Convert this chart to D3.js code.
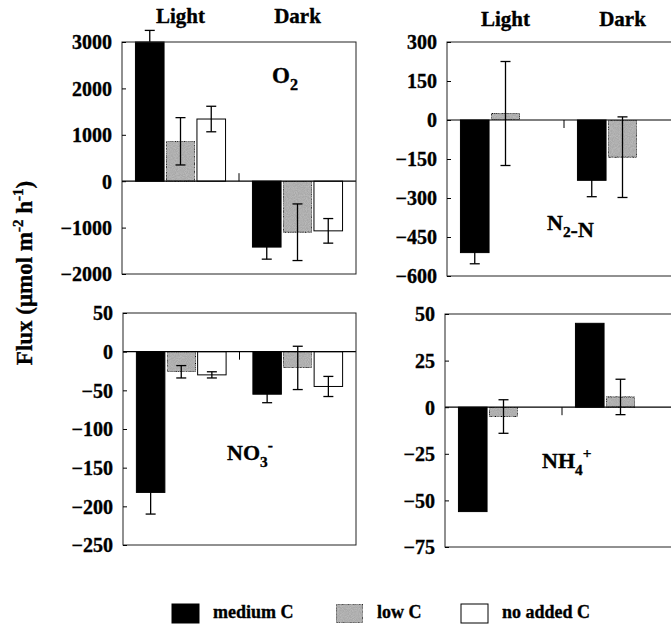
<!DOCTYPE html>
<html>
<head>
<meta charset="utf-8">
<script src="https://cdn.jsdelivr.net/npm/d3@7"></script>
<style>
  html, body { margin: 0; padding: 0; background: #fff; overflow: hidden; }
  svg { display: block; }
  text { font-family: "Liberation Serif", "Times New Roman", serif; fill: #000; }
  .heavy { stroke: #000; stroke-width: 0.35px; }
</style>
</head>
<body>
<svg id="chart" width="671" height="632"></svg>
<script>
// Treatments and incubation periods
const series = ["medium C", "low C", "no added C"];
const periods = ["Light", "Dark"];

// Mean fluxes, [period][treatment]; null = not measured
const o2Mean  = [[3000, 860, 1340], [-1420, -1100, -1070]];
const o2Err   = [[250, 510, 275], [260, 610, 265]];
const n2Mean  = [[-510, 25, null], [-232, -143, null]];
const n2Err   = [[43, 200, null], [63, 155, null]];
const no3Mean = [[-182, -26, -30], [-55, -21, -45]];
const no3Err  = [[28, 8, 4], [11, 28, 13]];
const nh4Mean = [[-56, -5, null], [45, 5.5, null]];
const nh4Err  = [[0, 9, null], [0, 9.5, null]];

// Tick values for each panel
const o2Ticks  = [-2000, -1000, 0, 1000, 2000, 3000];
const n2Ticks  = [-600, -450, -300, -150, 0, 150, 300];
const no3Ticks = [-250, -200, -150, -100, -50, 0, 50];
const nh4Ticks = [-75, -50, -25, 0, 25, 50];

const fills = ["#000000", "#a9a9a9", "#ffffff"];

const svg = d3.select("#chart");

// Stippled grey used for the low C bars
const defs = svg.append("defs");
const flt = defs.append("filter").attr("id", "stipple")
  .attr("x", 0).attr("y", 0).attr("width", 1).attr("height", 1);
flt.append("feTurbulence").attr("type", "fractalNoise")
  .attr("baseFrequency", 1.1).attr("numOctaves", 1).attr("seed", 3).attr("result", "n");
flt.append("feColorMatrix").attr("in", "n").attr("type", "matrix")
  .attr("values", "0 0 0 0 0.5  0 0 0 0 0.5  0 0 0 0 0.5  0 0 0 -2.2 1.45").attr("result", "dots");
flt.append("feComposite").attr("in", "dots").attr("in2", "SourceGraphic").attr("operator", "atop");

const panels = [
  { key: "o2",  mean: o2Mean,  err: o2Err,  ticks: o2Ticks,  x: 122, y: 42,  w: 234, h: 232,
    header: true, headerDy: -19, midTickUp: true,
    label: [{ t: "O", s: "2", sup: "" }], lx: 150, ly: 41, lsize: 23 },
  { key: "n2",  mean: n2Mean,  err: n2Err,  ticks: n2Ticks,  x: 447, y: 42,  w: 234, h: 234,
    header: true, headerDy: -16, midTickUp: false,
    label: [{ t: "N", s: "2", sup: "" }, { t: "-N", s: "", sup: "" }], lx: 100, ly: 188, lsize: 22 },
  { key: "no3", mean: no3Mean, err: no3Err, ticks: no3Ticks, x: 123, y: 313, w: 233, h: 232,
    header: false, midTickUp: false,
    label: [{ t: "NO", s: "3", sup: "-" }], lx: 104, ly: 147, lsize: 22 },
  { key: "nh4", mean: nh4Mean, err: nh4Err, ticks: nh4Ticks, x: 445, y: 314, w: 234, h: 233,
    header: false, midTickUp: false,
    label: [{ t: "NH", s: "4", sup: "+" }], lx: 97, ly: 154, lsize: 22 }
];

panels.forEach(p => {
  const g = svg.append("g").attr("transform", `translate(${p.x},${p.y})`);
  const dom = d3.extent(p.ticks);
  const y = d3.scaleLinear().domain(dom).range([p.h, 0]);
  const x0 = d3.scaleBand().domain(periods).range([0, p.w]).paddingInner(0.23).paddingOuter(0.115);
  const x1 = d3.scaleBand().domain(series).range([0, x0.bandwidth()]).paddingInner(0.07);

  // Rows of bar data
  const rows = [];
  periods.forEach((per, i) => series.forEach((s, j) => {
    if (p.mean[i][j] !== null) rows.push({ per, s, j, v: p.mean[i][j], e: p.err[i][j] });
  }));

  // Bars
  g.selectAll("rect.bar").data(rows).join("rect")
    .attr("class", "bar")
    .attr("x", d => x0(d.per) + x1(d.s))
    .attr("width", x1.bandwidth())
    .attr("y", d => y(Math.max(0, d.v)))
    .attr("height", d => Math.abs(y(d.v) - y(0)))
    .attr("fill", d => fills[d.j])
    .attr("filter", d => d.j === 1 ? "url(#stipple)" : null)
    .attr("stroke", "#000").attr("stroke-width", 1);

  // Error bars
  const eb = g.selectAll("g.err").data(rows.filter(d => d.e > 0)).join("g").attr("class", "err")
    .attr("transform", d => `translate(${x0(d.per) + x1(d.s) + x1.bandwidth() / 2},0)`)
    .attr("stroke", "#000").attr("stroke-width", 1.3);
  eb.append("line").attr("y1", d => y(d.v - d.e)).attr("y2", d => y(d.v + d.e));
  eb.append("line").attr("x1", -5).attr("x2", 5).attr("y1", d => y(d.v + d.e)).attr("y2", d => y(d.v + d.e));
  eb.append("line").attr("x1", -5).attr("x2", 5).attr("y1", d => y(d.v - d.e)).attr("y2", d => y(d.v - d.e));

  // Zero line and the divider tick between Light and Dark
  g.append("line").attr("x1", 0).attr("x2", p.w).attr("y1", y(0)).attr("y2", y(0))
    .attr("stroke", "#000").attr("stroke-width", 1.2);
  g.append("line").attr("x1", p.w / 2).attr("x2", p.w / 2)
    .attr("y1", y(0)).attr("y2", y(0) + (p.midTickUp ? -8 : 8))
    .attr("stroke", "#000").attr("stroke-width", 1);

  // Frame
  g.append("rect").attr("x", 0).attr("y", 0).attr("width", p.w).attr("height", p.h)
    .attr("fill", "none").attr("stroke", "#222").attr("stroke-width", 1);

  // Y axis with inward ticks
  const ax = g.append("g").call(d3.axisLeft(y).tickValues(p.ticks).tickSize(-4).tickPadding(10).tickFormat(d3.format("d")));
  ax.select(".domain").remove();
  ax.selectAll("line").attr("stroke", "#000");
  ax.selectAll("text")
    .attr("dy", "0.34em")
    .style("font-family", "'Liberation Serif', 'Times New Roman', serif")
    .style("font-size", "20px")
    .style("font-weight", "bold")
    .style("fill", "#000")
    .style("stroke", "#000")
    .style("stroke-width", "0.35px");

  // Period headers
  if (p.header) {
    g.selectAll("text.head").data(periods).join("text").attr("class", "head heavy")
      .attr("x", d => x0(d) + x0.bandwidth() / 2).attr("y", p.headerDy)
      .attr("text-anchor", "middle").attr("font-size", 21).attr("font-weight", "bold")
      .text(d => d);
  }

  // Species label
  const lt = g.append("text").attr("class", "heavy").attr("x", p.lx).attr("y", p.ly)
    .attr("font-size", p.lsize).attr("font-weight", "bold");
  p.label.forEach(part => {
    lt.append("tspan").text(part.t);
    if (part.s) lt.append("tspan").attr("font-size", p.lsize * 0.7).attr("dy", p.lsize * 0.3).text(part.s);
    if (part.sup) lt.append("tspan").attr("font-size", p.lsize * 0.7).attr("dy", -p.lsize * 0.75).text(part.sup);
    if (part.s && !part.sup) lt.append("tspan").attr("dy", -p.lsize * 0.3).text("");
  });
});

// Y axis title
const yt = svg.append("text").attr("class", "heavy").attr("transform", "translate(32,273) rotate(-90)")
  .attr("text-anchor", "middle").attr("font-size", 23).attr("font-weight", "bold");
yt.append("tspan").text("Flux (\u03bcmol m");
yt.append("tspan").attr("font-size", 15).attr("dy", -9).text("-2");
yt.append("tspan").attr("dy", 9).text(" h");
yt.append("tspan").attr("font-size", 15).attr("dy", -9).text("-1");
yt.append("tspan").attr("dy", 9).text(")");

// Legend
const legX = [172, 336, 461];
const leg = svg.append("g").selectAll("g").data(series).join("g")
  .attr("transform", (d, i) => `translate(${legX[i]},604)`);
leg.append("rect").attr("width", 27).attr("height", 19)
  .attr("fill", (d, i) => fills[i]).attr("filter", (d, i) => i === 1 ? "url(#stipple)" : null)
  .attr("stroke", "#000").attr("stroke-width", 1);
leg.append("text").attr("class", "heavy").attr("x", 41).attr("y", 14)
  .attr("font-size", 18).attr("font-weight", "bold").text(d => d);
</script>
</body>
</html>
